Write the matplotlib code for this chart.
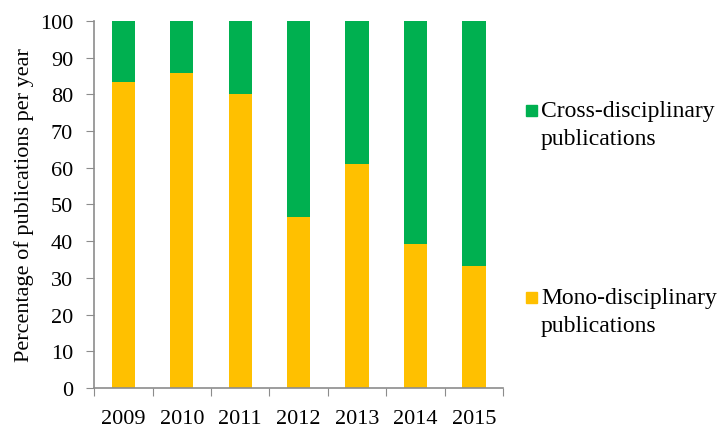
import matplotlib
matplotlib.use("Agg")
import matplotlib.pyplot as plt
import numpy as np
from matplotlib.patches import Rectangle

# share of publications per year (%)
years = ["2009", "2010", "2011", "2012", "2013", "2014", "2015"]
mono = [83.3, 85.7, 80.0, 46.7, 61.1, 39.1, 33.3]
cross = [100 - v for v in mono]
yticks = list(range(0, 101, 10))

plt.rcParams['font.family'] = 'serif'
plt.rcParams['font.serif'] = ['Liberation Serif', 'DejaVu Serif']
plt.rcParams['font.size'] = 16

yellow = '#FFC000'
green = '#00B050'
axis_grey = '#8C8C8C'

fig = plt.figure(figsize=(7.18, 4.31), dpi=100)
ax = fig.add_axes([0.131, 0.0974, 0.570, 0.852])

x = np.arange(len(years))
ax.bar(x, mono, width=0.4, color=yellow)
ax.bar(x, cross, width=0.4, bottom=mono, color=green)

ax.set_xlim(-0.5, len(years) - 0.5)
ax.set_ylim(0, 100)
ax.set_yticks(yticks)

# boundary ticks without labels, labels at centres
ax.set_xticks(np.arange(-0.5, len(years), 1.0))
ax.set_xticklabels([])
ax.set_xticks(x, minor=True)
ax.set_xticklabels(years, minor=True)
ax.tick_params(axis='x', which='major', length=6, color=axis_grey, direction='out')
ax.tick_params(axis='x', which='minor', length=0, pad=15)
ax.tick_params(axis='y', length=6, color=axis_grey, direction='out', pad=9)

for side in ['top', 'right']:
    ax.spines[side].set_visible(False)
for side in ['left', 'bottom']:
    ax.spines[side].set_color(axis_grey)
    ax.spines[side].set_linewidth(1.2)

ax.set_ylabel('Percentage of publications per year', labelpad=4)

# legend drawn by hand so the square sits beside the first line
W, H = 718.0, 431.0
entries = [(green, 'Cross-disciplinary\npublications', 111),
           (yellow, 'Mono-disciplinary\npublications', 298)]
for col, label, yc in entries:
    fig.patches.append(Rectangle((526 / W, (H - yc - 5.5) / H), 11 / W, 11 / H,
                                 transform=fig.transFigure, color=col))
    fig.text(541 / W, (H - yc + 10) / H, label, ha='left', va='top',
             fontsize=17, linespacing=1.45)

fig.savefig('out.png', dpi=100)
